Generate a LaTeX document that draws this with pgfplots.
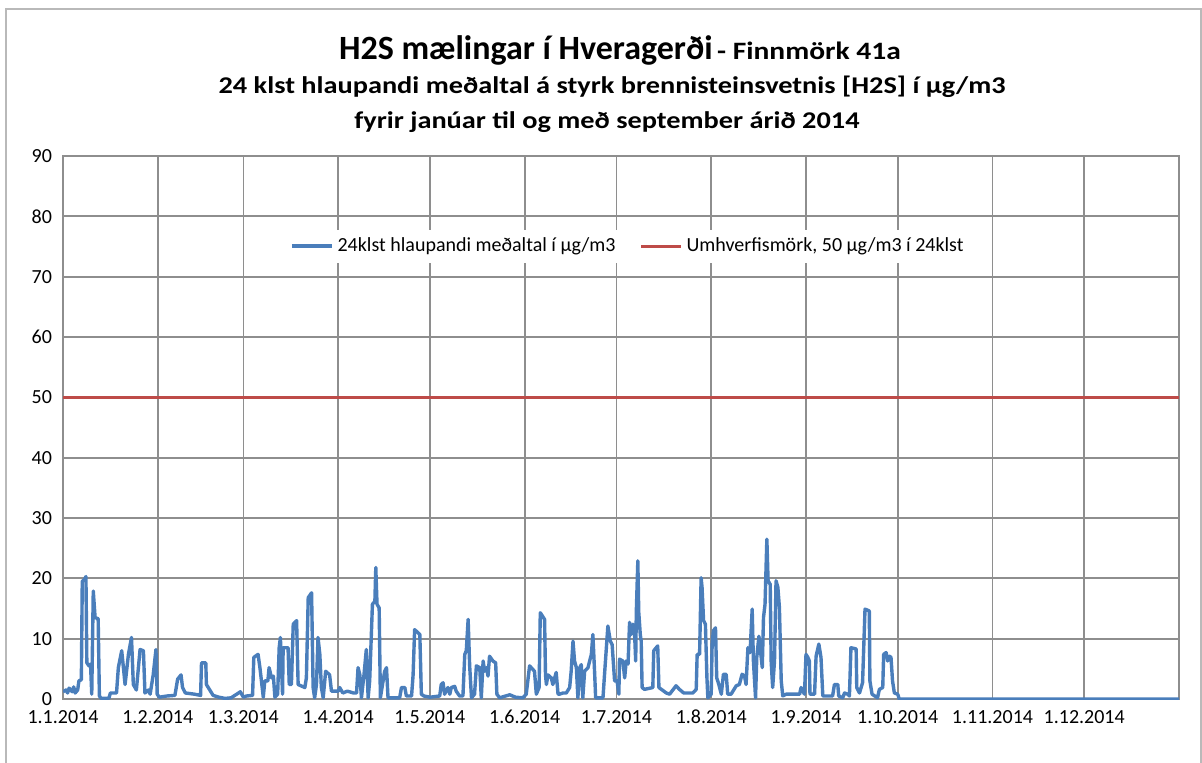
\documentclass[border=0pt]{standalone}
\usepackage{pgfplots}
\pgfplotsset{compat=1.18}
\usepackage{fontspec}
\setmainfont{Carlito}
\newfontfamily\widefont[FakeStretch=1.18]{Carlito}
\definecolor{xlblue}{HTML}{4A7EBB}
\definecolor{xlred}{HTML}{BE4B48}
\definecolor{gridgray}{HTML}{8E8E8E}
\begin{document}
\begin{tikzpicture}
\path[use as bounding box] (0,0) rectangle (601pt,381pt);
\draw[gray!55, line width=1pt] (3pt,-2pt) -- (3pt,376.5pt) -- (600.3pt,376.5pt) -- (600.3pt,-2pt);
\node[anchor=base, font=\bfseries, inner sep=0pt] at (310pt,351pt) {{\fontsize{17}{20}\selectfont H2S mælingar í Hveragerði} {\widefont\bfseries\fontsize{12.5}{14}\selectfont - Finnmörk 41a}};
\node[anchor=base, font=\widefont\bfseries\fontsize{12}{14}\selectfont, inner sep=0pt] at (306pt,334pt) {24 klst hlaupandi meðaltal á styrk brennisteinsvetnis [H2S] í µg/m3};
\node[anchor=base, font=\widefont\bfseries\fontsize{12}{14}\selectfont, inner sep=0pt] at (303.5pt,316.5pt) {fyrir janúar til og með september árið 2014};
\begin{axis}[
  at={(31.5pt,31.5pt)}, anchor=south west,
  width=558pt, height=271.5pt, scale only axis,
  xmin=0, xmax=365, ymin=0, ymax=90,
  xtick={0,31,59,90,120,151,181,212,243,273,304,334},
  xticklabels={1.1.2014,1.2.2014,1.3.2014,1.4.2014,1.5.2014,1.6.2014,1.7.2014,1.8.2014,1.9.2014,1.10.2014,1.11.2014,1.12.2014},
  ytick={0,10,...,90},
  grid=major,
  major grid style={gridgray, line width=0.9pt},
  axis line style={gridgray, line width=0.9pt},
  tick style={draw=none},
  ticklabel style={font=\fontsize{10}{12}\selectfont},
  xticklabel style={yshift=-2pt},
  yticklabel style={xshift=-2pt},
  /pgf/number format/assume math mode=true,
  legend style={at={(0.507,0.834)}, anchor=center, draw=none, fill=white, legend columns=2,
    font=\fontsize{10}{12}\selectfont, /tikz/every even column/.append style={column sep=10pt},
    inner sep=2pt},
  legend image code/.code={\draw[#1] (0pt,0pt) -- (20pt,0pt);},
  legend cell align=left,
]
\addplot[xlblue, line width=1.7pt, line join=round] coordinates {
(0,1.2) (1,1.5) (1.5,1) (2,1.8) (3,1.2) (3.5,2) (4,1) (4.8,1.5) (5.2,3) (6,3.2) (6.3,19.5) (7,19.8) (7.5,20.3) (7.8,6) (8.5,5.5) (9,5.8) (9.4,0.8) (9.9,17.9) (10.5,13.5) (11.5,13.3) (11.9,0.5) (12.5,0.1) (15,0.1) (15.5,1) (17.5,1) (18.1,5.2) (19.2,8) (19.7,5.5) (20.3,2.4) (21.4,7.4) (22.4,10.2) (23,2.4) (24,1.5) (25.2,8.2) (26.3,8) (26.8,1) (28,1.5) (28.5,0.8) (29.5,4) (30.4,8.2) (30.8,0.8) (31.5,0.3) (34,0.5) (36.6,0.6) (37.5,3.3) (38.6,4) (39.1,1.9) (40,1) (43,0.8) (45,0.6) (45.3,6) (46.7,6) (46.9,2.4) (48,1.5) (49.1,0.6) (51,0.3) (53,0.1) (55,0.2) (58,1.2) (59,0.3) (60,0.5) (62,0.6)
(62.4,6.9) (63.8,7.4) (64.4,5.2) (64.9,3) (65.5,0.3) (66,3) (67,3) (67.4,5.2) (68.2,3.5) (68.8,3.8) (69.3,0.3) (70.2,0.8) (70.7,8.5) (71.1,10.2) (71.8,0.8) (72,8.5) (73.6,8.5) (74,2.4) (74.7,2.4) (75.3,12.4) (76.4,13) (76.9,2.4) (79.1,1.9) (79.6,3.5) (80.2,16.8) (81.3,17.6) (81.8,1.9) (82.3,0.2) (82.9,2.4) (83.4,10.2) (84,7.4) (84.5,1.9) (85.1,0.2) (85.9,4.6) (87.2,4) (87.8,1.3) (90,1.3) (90.5,1.9) (91.5,1) (93,1.3) (95,1) (96,1) (96.5,5.2) (97.1,4) (97.6,0.2) (98.4,3.8) (99.2,8.2) (99.8,0.2) (100.3,3) (101.2,15.7) (102,16.2) (102.3,21.8) (102.7,15.7) (103.4,15.1) (103.8,0.2) (105.2,4.6) (105.8,5.2) (106.3,0.2) (110.1,0.2) (110.7,1.9) (111.8,1.9) (112.3,0.5) (114,0.5) (114.5,4) (115,11.5) (116.7,10.7) (117.2,0.8)
(118,0.5) (120,0.3) (123.2,0.5) (123.7,2.4) (124.3,2.7) (124.8,0.8) (125.9,1.9) (126.5,0.8) (127,1.9) (128.1,2.1) (128.6,1.3) (129.7,0.5) (130.8,0.5) (131.4,7.4) (131.9,8) (132.5,13.2) (133,5.5) (133.6,0.2) (134.6,0.8) (135.2,5.5) (136.3,5.2) (136.8,0.2) (137.4,6.3) (137.9,4.6) (138.5,5.2) (139,3.8) (139.5,7.1) (140.6,6.3) (141.5,6) (141.9,0.8) (142.8,0.2) (146.1,0.7) (148,0.3) (150.4,0.2) (151.5,0.8) (152.6,5.5) (154.2,4.6) (154.8,0.8) (155.7,1.9) (156.1,14.3) (157.5,13.2) (157.8,4) (158.1,2.4) (158.6,4) (159.7,3.5) (160.2,2.4) (161.3,4.4) (161.9,0.8) (162.4,0.8) (163.5,1) (164.6,1) (165.7,1.9) (166.2,4.6) (166.8,9.6) (167.3,6.3) (167.9,5.2) (168.4,0.2) (169,5.2) (169.5,5.7) (170,0.2) (170.6,4.6) (171.7,5.2) (172.8,7.4) (173.3,10.7) (173.9,4) (174.2,0.2) (176.6,0.2) (177.1,4) (178.2,12.1) (179,9.6) (179.6,9) (180.4,3) (181.2,3) (181.8,0.8)
(182,6.6) (183.1,6.3) (183.7,3.5) (184.2,6.3) (184.8,5.8) (185.3,12.7) (185.8,10.7) (186.4,12.4) (186.9,11.3) (187.3,6.3) (187.5,14.4) (188,22.9) (188.3,14.4) (188.8,10.7) (189.1,9.6) (189.4,1.9) (190.2,1.6) (192.9,1.9) (193.2,8) (194.5,8.8) (194.9,1.9) (197.3,1) (198.4,0.8) (200.5,2.2) (201.6,1.6) (203,1) (206,1) (207.1,1.6) (207.4,7.4) (208.2,7.4) (208.7,20.1) (209,18.5) (209.5,13) (210.1,12.4) (210.6,3.5) (210.9,0.2) (212,0.8) (212.3,9.1) (212.7,11.3) (213.4,11.8) (213.8,3.5) (214.5,2.4) (215.3,0.8) (216,4.1) (216.9,4.1) (217.4,0.8) (218.5,0.8) (220.2,2.2) (221.2,2.4) (222.1,4.1) (222.9,3.8) (223.4,2.4) (224,8.5) (224.7,7.7) (225.4,14.9) (225.8,6.3) (226.5,0.2) (226.9,6.9) (227.6,10.4) (228,8.5) (228.7,5.2) (229.1,13.5) (229.6,15.7) (230.2,26.5) (230.6,19.6) (231.3,19) (231.6,6.3) (232.1,1.9) (232.7,6.3) (233.2,19.6) (233.8,18.5) (234.3,15.2) (234.9,3) (235.4,0.5) (236.5,0.8)
(240.9,0.8) (241.4,1.9) (242.5,0.8) (243,7.4) (243.6,6.9) (244.1,6.3) (244.3,0.8) (245.8,0.8) (246.3,7.1) (247.2,9.1) (247.9,6.9) (248.5,0.5) (251.7,0.5) (252.3,2.4) (253.4,2.4) (253.7,0.5) (255,0.2) (255.6,1) (256.6,0.8) (257.2,0.5) (257.7,8.5) (259.4,8.3) (259.6,1.9) (260.5,1) (261.5,2.7) (262.3,14.9) (263.7,14.6) (263.9,3) (264.6,0.8) (266.4,0.2) (267,1.6) (268.1,1.9) (268.4,7.4) (269.2,7.7) (269.7,6.3) (270.3,7.1) (270.8,6.9) (271.3,3) (271.9,1) (273,0.8) (273.5,0) (365,0)
};
\addlegendentry{24klst hlaupandi meðaltal í µg/m3}
\addplot[xlred, line width=1.5pt] coordinates {(0,50) (365,50)};
\addlegendentry{Umhverfismörk, 50 µg/m3 í 24klst}
\end{axis}
\end{tikzpicture}
\end{document}
